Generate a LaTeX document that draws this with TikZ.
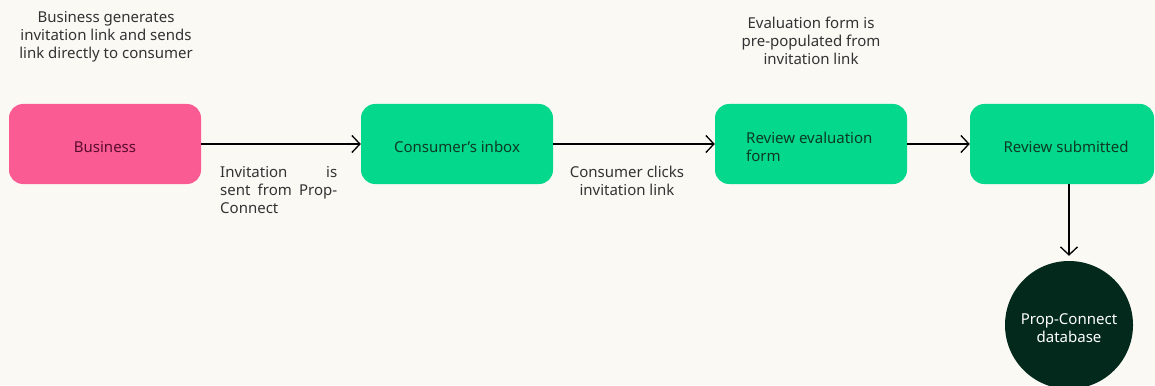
\documentclass[tikz,border=0pt]{standalone}
\usepackage{fontspec}
\setmainfont{Noto Sans}
\usetikzlibrary{arrows.meta,calc}
\definecolor{bg}{HTML}{FAF9F4}
\definecolor{pinkbox}{HTML}{FB5B93}
\definecolor{greenbox}{HTML}{03D88D}
\definecolor{darkdb}{HTML}{02291C}
\definecolor{greentext}{HTML}{0C3B22}
\definecolor{pinktext}{HTML}{5A0C2C}
\definecolor{labeltext}{HTML}{333333}
\tikzset{
  txt/.style={inner sep=0pt, font=\fontsize{15}{18}\selectfont},
  box/.style={rectangle, rounded corners=14pt, minimum width=192pt, minimum height=80pt, inner sep=0pt},
  pinkstep/.style={box, fill=pinkbox},
  greenstep/.style={box, fill=greenbox},
  dbnode/.style={circle, fill=darkdb, minimum size=128pt, inner sep=0pt},
  boxtext/.style={txt, text=#1, align=center, anchor=base},
  note/.style={txt, text=labeltext, align=center, anchor=base},
  flow/.style={line width=1.6pt, -{Straight Barb[length=8pt,width=17pt,line width=1.3pt]}}
}
\begin{document}
\begin{tikzpicture}[x=1pt,y=-1pt]
\fill[bg] (0,0) rectangle (1155,385);
\useasboundingbox (0,0) rectangle (1155,385);
\begin{scope}
\clip (0,0) rectangle (1155,385);
\node[pinkstep] (bus) at (105,144) {};
\node[greenstep] (inbox) at (457,144) {};
\node[greenstep] (eval) at (811,144) {};
\node[greenstep, minimum width=184pt] (sub) at (1062,144) {};
\node[dbnode] (db) at (1069,325) {};

\node[boxtext=pinktext] (bust) at (105,152.5) {Business};
\node[boxtext=greentext] (inboxt) at (457,152) {Consumer’s inbox};
\node[boxtext=greentext, align=left, anchor=base west] (evalt) at (746,161) {Review evaluation\\form};
\node[boxtext=greentext] (subt) at (1066,152) {Review submitted};
\node[boxtext=white] (dbt) at (1069,342) {Prop-Connect\\database};

\node[note] (n1) at (106,59) {Business generates\\invitation link and sends\\link directly to consumer};
\node[note, align=left, anchor=base west] (n2) at (220,213) {\makebox[117pt][s]{Invitation\hfill is}\\\makebox[117pt][s]{sent from Prop-}\\Connect};
\node[note] (n3) at (627,195) {Consumer clicks\\invitation link};
\node[note] (n4) at (811,65) {Evaluation form is\\pre-populated from\\invitation link};

\draw[flow] (bus) -- (inbox);
\draw[flow] (inbox) -- (eval);
\draw[flow] (eval) -- (sub);
\draw[flow, shorten >=5pt] (db.north |- sub.south) -- (db.north);
\end{scope}
\end{tikzpicture}
\end{document}
